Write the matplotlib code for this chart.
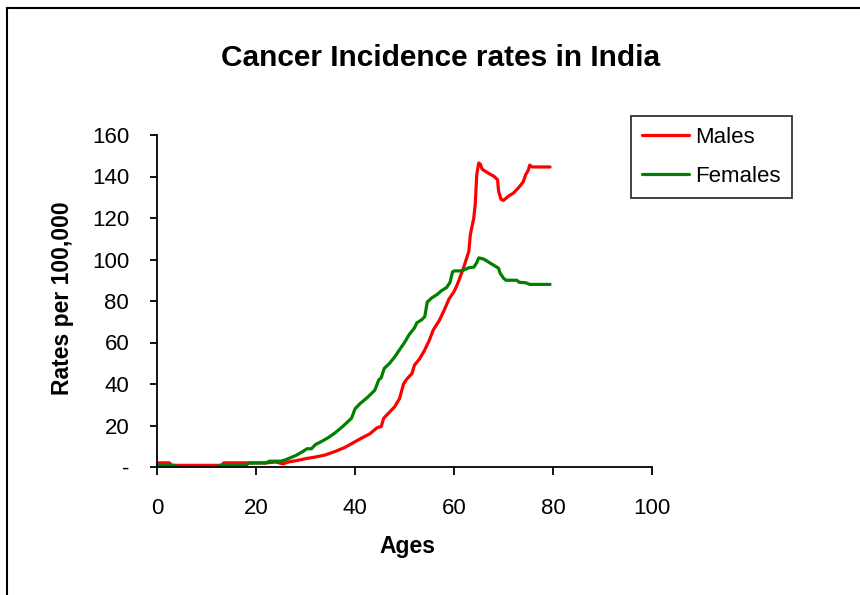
import numpy as np
import matplotlib
matplotlib.use("Agg")
import matplotlib.pyplot as plt
from matplotlib.lines import Line2D

plt.rcParams['font.family'] = ['Liberation Sans', 'DejaVu Sans']

# Males: age, rate per 100,000
male_age = [0, 2.5, 3, 13, 13.5, 22, 24, 25.5, 26.5, 28, 30, 32, 34, 36, 38, 39.5,
            41, 43, 44.5, 45.3, 45.8, 47, 48, 49, 49.8, 50.5, 51.5, 52, 53, 54, 55,
            55.8, 57, 58, 59, 60, 60.5, 61, 62, 63, 63.3, 64, 64.3, 64.6, 65.0, 65.3,
            65.7, 67, 68, 68.8, 69, 69.5, 70, 71, 72, 73.2, 74, 74.5, 75, 75.3, 75.8, 79.4]
male_rate = [2.0, 2.0, 0.8, 0.8, 2.0, 2.0, 2.4, 1.5, 2.4, 3.0, 4.0, 4.8, 5.8, 7.5, 9.5, 11.5,
             13.5, 16, 19, 19.5, 23.5, 26.5, 29, 33, 40, 42.5, 45, 49, 52, 56, 61,
             66, 70.5, 75.5, 81, 84.5, 87, 90, 96.5, 104, 112, 120, 127, 141, 146.5, 146,
             143.5, 141.5, 140.2, 138.5, 133, 129, 128.5, 130.5, 132, 135, 137.5, 141, 143, 145.5, 144.6, 144.6]

# Females (nan = no data)
female_age = [0, 3.5, 4.3, 8, 12, 12.7, 18, 18.5, 22, 22.7, 25, 26, 28, 29.5, 30.3, 31.2,
              32, 33, 34.5, 36, 37.5, 39.3, 40, 41, 42.5, 44, 44.8, 45.3, 45.9, 47, 48,
              49, 50, 51, 52, 52.5, 53.5, 54.1, 54.6, 55.5, 56.5, 57.5, 58.5, 59.2, 59.7,
              60.0, 61.5, 63.0, 64, 64.6, 65.0, 66.0, 67.5, 69, 69.3, 70, 70.5, 72.7, 73.2,
              74.5, 75.3, 79.4]
female_rate = [0.8, 0.8, 0.0, np.nan, 0.0, 0.8, 0.8, 1.9, 1.9, 2.8, 2.8, 3.5, 5.5, 7.5, 8.8, 8.8,
               10.8, 12, 14, 16.5, 19.5, 23.5, 28, 30.5, 33.5, 37, 42, 43, 47.5, 50, 53,
               56.5, 60, 64, 67, 69.5, 71, 72.5, 79.5, 81.5, 83, 85, 86.5, 89, 94,
               94.5, 94.5, 96, 96.3, 98.5, 100.8, 100.2, 98, 95.8, 93.5, 91, 90, 90, 89,
               88.8, 88, 88]

x_ticks = [0, 20, 40, 60, 80, 100]
y_ticks = [0, 20, 40, 60, 80, 100, 120, 140, 160]
y_tick_labels = ['-', '20', '40', '60', '80', '100', '120', '140', '160']

fig = plt.figure(figsize=(8.6, 5.95), dpi=100)
ax = fig.add_axes([157 / 860, 1 - 467 / 595, (652 - 157) / 860, (467 - 135) / 595])

ax.plot(male_age, male_rate, color='#FF0000', lw=2.3, label='Males', solid_capstyle='round')
ax.plot(female_age, female_rate, color='#008000', lw=2.3, label='Females', solid_capstyle='round')

ax.set_xlim(0, 100)
ax.set_ylim(0, 160)
ax.set_xticks(x_ticks)
ax.set_yticks(y_ticks)
ax.set_yticklabels(y_tick_labels)
ax.spines['top'].set_visible(False)
ax.spines['right'].set_visible(False)
for s in ['left', 'bottom']:
    ax.spines[s].set_linewidth(1.3)
ax.tick_params(axis='x', direction='out', length=6, width=1.3, pad=16, labelsize=16)
ax.tick_params(axis='y', direction='out', length=5, width=1.3, pad=15, labelsize=16)

fig.text(441 / 860, 1 - 58 / 595, 'Cancer Incidence rates in India', ha='center', va='center',
         fontsize=21.5, fontweight='bold')
fig.text(63 / 860, 1 - 298 / 595, 'Rates per 100,000', ha='center', va='center', rotation=90,
         fontsize=16.5, fontweight='bold')
fig.text(407 / 860, 1 - 546 / 595, 'Ages', ha='center', va='center', fontsize=16.5, fontweight='bold')

leg = ax.legend(loc='upper left', bbox_to_anchor=(631 / 860, 1 - 116 / 595),
                bbox_transform=fig.transFigure, fontsize=16, frameon=True, fancybox=False,
                borderaxespad=0, borderpad=0.5, handlelength=2.1, handletextpad=0.3,
                labelspacing=0.8)
leg.get_frame().set_edgecolor('black')
leg.get_frame().set_linewidth(1.3)

# outer chart border (left and top visible)
fig.add_artist(Line2D([6.5 / 860, 6.5 / 860], [0, 1 - 7.5 / 595], transform=fig.transFigure,
                      color='black', lw=1.5))
fig.add_artist(Line2D([6.5 / 860, 1], [1 - 7.5 / 595, 1 - 7.5 / 595], transform=fig.transFigure,
                      color='black', lw=1.5))

fig.savefig('out.png', dpi=100)
